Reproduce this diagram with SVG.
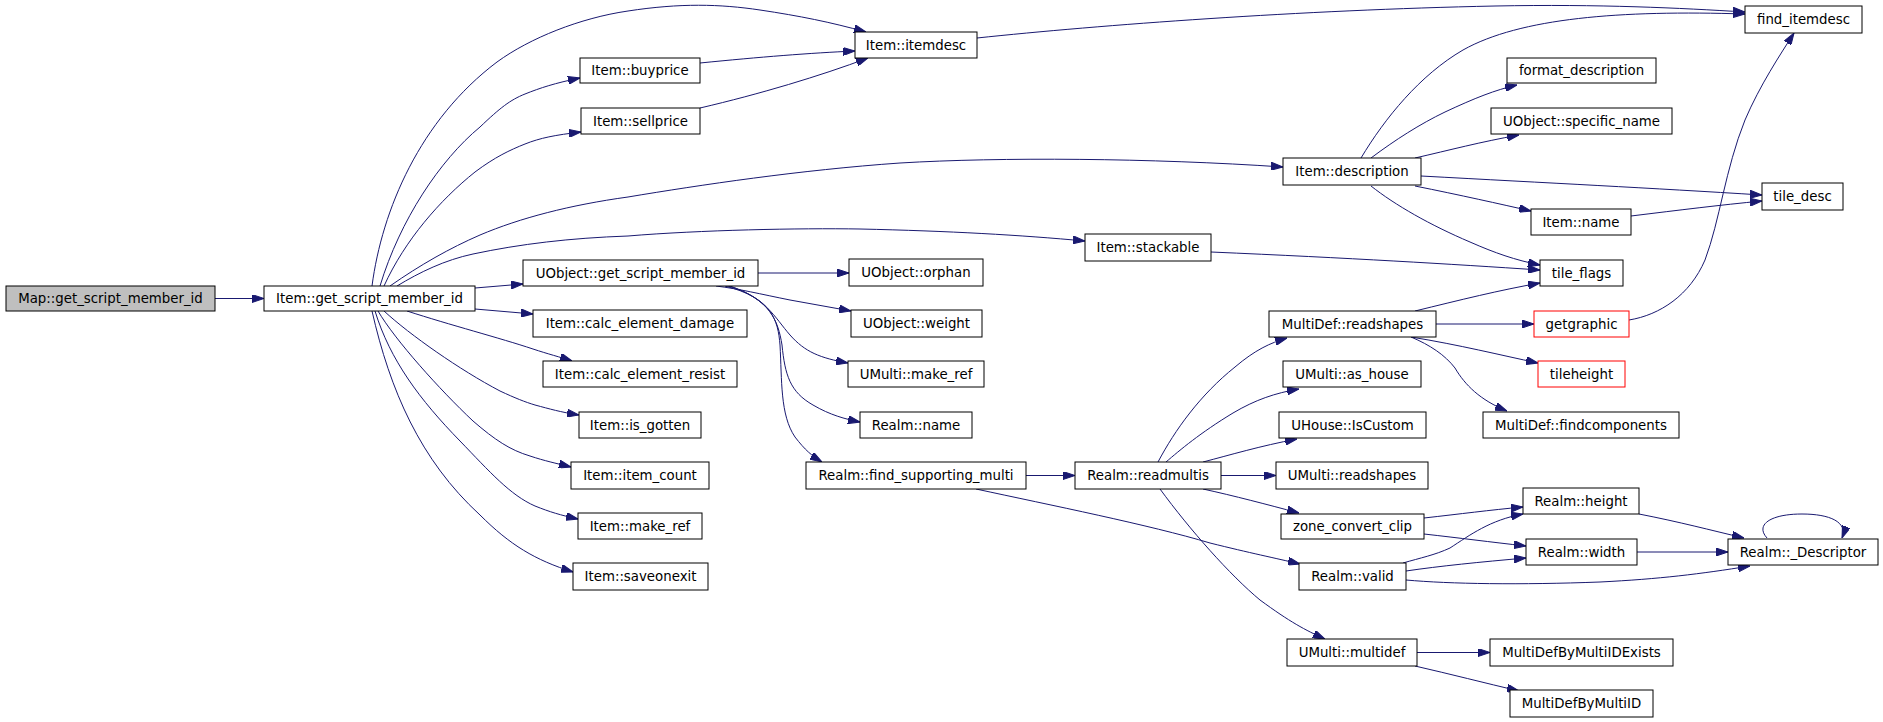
<svg xmlns="http://www.w3.org/2000/svg" width="1883" height="722" viewBox="0 0 1883 722">
<style>
.n rect{fill:#fff;stroke:#000;stroke-width:1}
.n.root rect{fill:#bfbfbf}
.n.red rect{stroke:#ff0000}
.n text{font-family:"DejaVu Sans","Liberation Sans",sans-serif;font-size:13.33px;text-anchor:middle;fill:#000}
#edges path{fill:none;stroke:#191970;stroke-width:1;marker-end:url(#arr)}
</style>
<defs>
<marker id="arr" markerUnits="userSpaceOnUse" markerWidth="12" markerHeight="8" refX="12" refY="4" orient="auto">
<path d="M0,0 L12,4 L0,8 z" fill="#191970" stroke="#191970" stroke-width="1"/>
</marker>
</defs>
<rect width="1883" height="722" fill="#fff"/>
<g id="edges">
<path d="M215,298.5 L264,298.5"/>
<path d="M372,286 C382,210 420,120 497,62 C530,38 580,18 628,11 C680,3 720,4 760,10 C800,16 830,22 866,32"/>
<path d="M380,286 C400,220 440,160 480,127 C500,108 510,100 525,94 C540,88 555,83 580,78"/>
<path d="M384,286 C405,240 440,200 475,172 C495,157 510,150 525,144 C540,138 555,135 581,132"/>
<path d="M700,63 C760,57 810,53 855,51"/>
<path d="M700,108 C760,94 820,76 868,58"/>
<path d="M390,286 C420,265 450,248 480,235 C520,218 570,205 628,197 C700,185 800,170 900,163 C1000,157 1150,158 1283,167"/>
<path d="M397,286 C420,272 445,260 473,254 C520,244 570,238 628,236 C700,230 800,228 860,229 C950,231 1020,235 1085,241"/>
<path d="M475,288 L523,284"/>
<path d="M475,309 L533,314"/>
<path d="M407,311 C450,325 500,338 533,349 C548,354 560,357 572,361"/>
<path d="M384,311 C410,335 460,370 500,391 C515,398 525,402 535,405 C550,409 560,412 579,415"/>
<path d="M378,311 C395,340 440,390 473,421 C495,440 510,450 530,456 C545,461 555,463 571,467"/>
<path d="M375,311 C390,360 420,400 460,441 C490,472 510,495 535,506 C550,512 560,515 578,519"/>
<path d="M372,311 C390,390 420,460 480,515 C510,545 535,560 573,572"/>
<path d="M758,273 L849,273"/>
<path d="M716,286 C740,289 760,294 790,300 L851,311"/>
<path d="M728,286 C765,296 775,318 790,335 C805,352 820,358 848,363"/>
<path d="M730,286 C770,300 778,320 782,345 C785,375 790,392 813,405 C830,415 845,419 860,422"/>
<path d="M725,286 C772,298 778,320 780,345 C782,380 780,415 795,437 C805,450 812,456 822,462"/>
<path d="M1026,475.5 L1075,475.5"/>
<path d="M976,489 C1050,505 1150,525 1210,543 C1250,553 1275,558 1300,564"/>
<path d="M977,38 C1100,25 1300,10 1495,6 C1600,4 1680,8 1745,12"/>
<path d="M1361,158 C1385,118 1420,75 1463,50 C1520,18 1620,10 1745,14"/>
<path d="M1371,158 C1395,140 1420,124 1445,112 C1475,98 1495,90 1517,85"/>
<path d="M1415,158 C1450,150 1480,142 1519,135"/>
<path d="M1421,176 C1550,183 1650,188 1762,195"/>
<path d="M1415,186 C1460,195 1500,204 1531,211"/>
<path d="M1371,186 C1395,205 1430,225 1470,242 C1495,253 1515,260 1540,265"/>
<path d="M1631,216 C1680,210 1720,205 1762,201"/>
<path d="M1211,252 C1350,258 1450,264 1540,270"/>
<path d="M1158,462 C1175,430 1200,395 1235,367 C1255,350 1270,343 1287,338"/>
<path d="M1166,462 C1180,450 1200,433 1233,413 C1255,400 1275,393 1299,389"/>
<path d="M1203,462 C1230,455 1260,446 1297,439"/>
<path d="M1221,475.5 L1276,475.5"/>
<path d="M1203,489 C1235,496 1265,504 1299,513"/>
<path d="M1160,489 C1190,530 1230,575 1260,600 C1290,622 1305,630 1325,639"/>
<path d="M1415,311 C1460,300 1500,290 1540,283"/>
<path d="M1436,324 L1534,324"/>
<path d="M1629,320 C1660,315 1690,295 1705,260 C1720,220 1725,170 1745,120 C1760,85 1780,55 1794,33"/>
<path d="M1411,337 C1460,345 1500,355 1538,363"/>
<path d="M1411,337 C1430,345 1445,355 1455,368 C1465,385 1480,400 1507,411"/>
<path d="M1639,514 C1680,522 1710,530 1744,538"/>
<path d="M1424,518 C1460,514 1490,510 1523,507"/>
<path d="M1424,534 C1460,538 1490,542 1526,546"/>
<path d="M1403,563 C1420,558 1435,555 1450,548 C1470,535 1490,520 1523,514"/>
<path d="M1406,571 C1440,566 1480,562 1526,558"/>
<path d="M1406,580 C1450,584 1520,585 1600,582 C1660,579 1700,574 1750,566"/>
<path d="M1637,552 L1728,552"/>
<path d="M1767,538 C1755,525 1770,514 1802,514 C1830,514 1848,522 1842,538"/>
<path d="M1417,652.5 L1490,652.5"/>
<path d="M1415,666 C1450,674 1485,683 1519,691"/>
</g>
<g id="n_map" class="n root"><rect x="6" y="286" width="209" height="25"/><text x="110.5" y="303">Map::get_script_member_id</text></g>
<g id="n_igsmi" class="n"><rect x="264" y="286" width="211" height="25"/><text x="369.5" y="303">Item::get_script_member_id</text></g>
<g id="n_itemdesc" class="n"><rect x="855" y="32" width="122" height="26"/><text x="916" y="49.5">Item::itemdesc</text></g>
<g id="n_buyprice" class="n"><rect x="580" y="58" width="120" height="25"/><text x="640" y="75">Item::buyprice</text></g>
<g id="n_sellprice" class="n"><rect x="581" y="108" width="119" height="26"/><text x="640.5" y="125.5">Item::sellprice</text></g>
<g id="n_description" class="n"><rect x="1283" y="158" width="138" height="27"/><text x="1352" y="176">Item::description</text></g>
<g id="n_stackable" class="n"><rect x="1085" y="234" width="126" height="27"/><text x="1148" y="252">Item::stackable</text></g>
<g id="n_uogsmi" class="n"><rect x="523" y="260" width="235" height="26"/><text x="640.5" y="277.5">UObject::get_script_member_id</text></g>
<g id="n_damage" class="n"><rect x="533" y="310" width="214" height="27"/><text x="640" y="328">Item::calc_element_damage</text></g>
<g id="n_resist" class="n"><rect x="543" y="361" width="194" height="26"/><text x="640" y="378.5">Item::calc_element_resist</text></g>
<g id="n_isgotten" class="n"><rect x="579" y="412" width="122" height="26"/><text x="640" y="429.5">Item::is_gotten</text></g>
<g id="n_itemcount" class="n"><rect x="571" y="462" width="138" height="27"/><text x="640" y="480">Item::item_count</text></g>
<g id="n_imakeref" class="n"><rect x="578" y="513" width="124" height="26"/><text x="640" y="530.5">Item::make_ref</text></g>
<g id="n_saveonexit" class="n"><rect x="573" y="563" width="135" height="27"/><text x="640.5" y="581">Item::saveonexit</text></g>
<g id="n_orphan" class="n"><rect x="849" y="259" width="134" height="27"/><text x="916" y="277">UObject::orphan</text></g>
<g id="n_weight" class="n"><rect x="851" y="310" width="131" height="27"/><text x="916.5" y="328">UObject::weight</text></g>
<g id="n_umakeref" class="n"><rect x="848" y="361" width="136" height="26"/><text x="916" y="378.5">UMulti::make_ref</text></g>
<g id="n_realmname" class="n"><rect x="860" y="412" width="112" height="26"/><text x="916" y="429.5">Realm::name</text></g>
<g id="n_findsupp" class="n"><rect x="806" y="462" width="220" height="27"/><text x="916" y="480">Realm::find_supporting_multi</text></g>
<g id="n_readmultis" class="n"><rect x="1075" y="462" width="146" height="27"/><text x="1148" y="480">Realm::readmultis</text></g>
<g id="n_finditemdesc" class="n"><rect x="1745" y="6" width="117" height="27"/><text x="1803.5" y="24">find_itemdesc</text></g>
<g id="n_formatdesc" class="n"><rect x="1507" y="58" width="149" height="25"/><text x="1581.5" y="75">format_description</text></g>
<g id="n_specname" class="n"><rect x="1491" y="108" width="181" height="26"/><text x="1581.5" y="125.5">UObject::specific_name</text></g>
<g id="n_tiledesc" class="n"><rect x="1762" y="183" width="81" height="27"/><text x="1802.5" y="201">tile_desc</text></g>
<g id="n_itemname" class="n"><rect x="1531" y="209" width="100" height="26"/><text x="1581" y="226.5">Item::name</text></g>
<g id="n_tileflags" class="n"><rect x="1540" y="260" width="83" height="26"/><text x="1581.5" y="277.5">tile_flags</text></g>
<g id="n_mdreadshapes" class="n"><rect x="1269" y="311" width="167" height="26"/><text x="1352.5" y="328.5">MultiDef::readshapes</text></g>
<g id="n_getgraphic" class="n red"><rect x="1534" y="311" width="95" height="26"/><text x="1581.5" y="328.5">getgraphic</text></g>
<g id="n_tileheight" class="n red"><rect x="1538" y="361" width="87" height="26"/><text x="1581.5" y="378.5">tileheight</text></g>
<g id="n_ashouse" class="n"><rect x="1283" y="361" width="138" height="26"/><text x="1352" y="378.5">UMulti::as_house</text></g>
<g id="n_findcomp" class="n"><rect x="1483" y="412" width="196" height="26"/><text x="1581" y="429.5">MultiDef::findcomponents</text></g>
<g id="n_iscustom" class="n"><rect x="1279" y="412" width="147" height="26"/><text x="1352.5" y="429.5">UHouse::IsCustom</text></g>
<g id="n_umreadshapes" class="n"><rect x="1276" y="462" width="152" height="27"/><text x="1352" y="480">UMulti::readshapes</text></g>
<g id="n_height" class="n"><rect x="1523" y="488" width="116" height="26"/><text x="1581" y="505.5">Realm::height</text></g>
<g id="n_zone" class="n"><rect x="1281" y="514" width="143" height="25"/><text x="1352.5" y="531">zone_convert_clip</text></g>
<g id="n_width" class="n"><rect x="1526" y="539" width="111" height="26"/><text x="1581.5" y="556.5">Realm::width</text></g>
<g id="n_descriptor" class="n"><rect x="1728" y="539" width="150" height="26"/><text x="1803" y="556.5">Realm::_Descriptor</text></g>
<g id="n_valid" class="n"><rect x="1299" y="563" width="107" height="27"/><text x="1352.5" y="581">Realm::valid</text></g>
<g id="n_multidef" class="n"><rect x="1287" y="639" width="130" height="27"/><text x="1352" y="657">UMulti::multidef</text></g>
<g id="n_mdexists" class="n"><rect x="1490" y="639" width="183" height="27"/><text x="1581.5" y="657">MultiDefByMultiIDExists</text></g>
<g id="n_mdbyid" class="n"><rect x="1510" y="690" width="143" height="27"/><text x="1581.5" y="708">MultiDefByMultiID</text></g>
</svg>
